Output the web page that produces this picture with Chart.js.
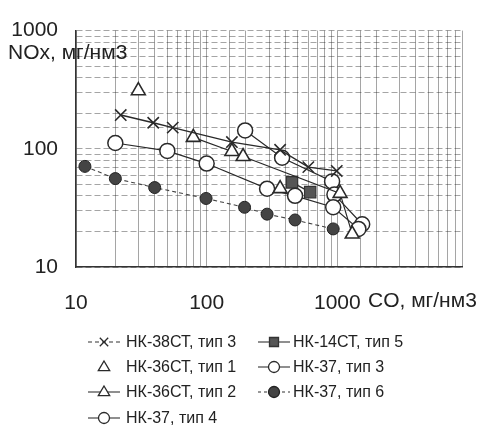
<!DOCTYPE html>
<html><head><meta charset="utf-8">
<script src="https://cdn.jsdelivr.net/npm/chart.js@4.4.0/dist/chart.umd.min.js"></script>
<style>html,body{margin:0;padding:0;background:#fff;}#wrap{width:488px;height:426px;position:relative;}</style>
</head><body><div id="wrap"><canvas id="c" width="488" height="426"></canvas></div>
<script>
// ---- data (CO, mg/nm3 vs NOx, mg/nm3) ----
const xTickLabels = [10, 100, 1000];
const yTickLabels = [10, 100, 1000];
const xTitle = "CO, мг/нм3";
const yTitle = "NOx, мг/нм3";

const seriesNames = ["НК-38СТ, тип 3", "НК-36СТ, тип 1", "НК-36СТ, тип 2", "НК-37, тип 4",
                     "НК-14СТ, тип 5", "НК-37, тип 3", "НК-37, тип 6"];

const nk38t3CO  = [22, 39, 55, 156, 365, 600, 990];
const nk38t3NOx = [193, 166, 151, 114, 98, 70, 65];

const nk36t1CO  = [30, 365];
const nk36t1NOx = [310, 46];

const nk36t2CO  = [79, 156, 190, 1050, 1300];
const nk36t2NOx = [125, 95, 86, 42, 19];

const nk37t4CO  = [20, 50, 100, 290, 475, 930, 1450];
const nk37t4NOx = [112, 96, 75, 46, 40, 32, 21];

const nk14t5CO  = [450, 620];
const nk14t5NOx = [52, 43];

const nk37t3CO  = [197, 378, 912, 950, 1550];
const nk37t3NOx = [143, 84, 53, 41, 23];

const nk37t6CO  = [11.7, 20, 40, 99, 195, 290, 475, 930];
const nk37t6NOx = [71, 56, 47, 38, 32, 28, 25, 21];

const pts = (xs, ys) => xs.map((x, i) => ({x: x, y: ys[i]}));

const FONT = '"Liberation Sans", Arial, sans-serif';
const INK = '#2a2a2a';

const datasets = [
  {label: seriesNames[0], data: pts(nk38t3CO, nk38t3NOx), pointStyle: 'crossRot', pointRadius: 8,
   borderColor: INK, pointBorderColor: INK, pointBorderWidth: 1.6, borderWidth: 1.4, showLine: true, legendDash: [4,3], order: 1},
  {label: seriesNames[1], data: pts(nk36t1CO, nk36t1NOx), pointStyle: 'triangle', pointRadius: 8,
   borderColor: INK, pointBackgroundColor: '#fff', pointBorderColor: INK, pointBorderWidth: 1.6, showLine: false, order: 2},
  {label: seriesNames[2], data: pts(nk36t2CO, nk36t2NOx), pointStyle: 'triangle', pointRadius: 8,
   borderColor: INK, pointBackgroundColor: '#fff', pointBorderColor: INK, pointBorderWidth: 1.6, borderWidth: 1.2, showLine: true, order: 3},
  {label: seriesNames[3], data: pts(nk37t4CO, nk37t4NOx), pointStyle: 'circle', pointRadius: 7.5,
   borderColor: INK, pointBackgroundColor: '#fff', pointBorderColor: INK, pointBorderWidth: 1.5, borderWidth: 1.2, showLine: true, order: 4},
  {label: seriesNames[4], data: pts(nk14t5CO, nk14t5NOx), pointStyle: 'rect', pointRadius: 8,
   borderColor: INK, pointBackgroundColor: '#555', pointBorderColor: '#333', pointBorderWidth: 1.2, borderWidth: 1.2, showLine: true, order: 5},
  {label: seriesNames[5], data: pts(nk37t3CO, nk37t3NOx), pointStyle: 'circle', pointRadius: 7.5,
   borderColor: INK, pointBackgroundColor: '#fff', pointBorderColor: INK, pointBorderWidth: 1.5, borderWidth: 1.2, showLine: true, order: 6},
  {label: seriesNames[6], data: pts(nk37t6CO, nk37t6NOx), pointStyle: 'circle', pointRadius: 6,
   borderColor: '#444', pointBackgroundColor: '#444', pointBorderColor: '#222', pointBorderWidth: 1, borderWidth: 1.1, borderDash: [4,3], showLine: true, legendDash: [3,3], order: 7}
];

function drawMarker(ctx, style, x, y, r, fill, stroke, lw) {
  ctx.save();
  ctx.lineWidth = lw; ctx.strokeStyle = stroke; ctx.fillStyle = fill; ctx.setLineDash([]);
  ctx.beginPath();
  if (style === 'circle') {
    ctx.arc(x, y, r, 0, Math.PI * 2); ctx.fill(); ctx.stroke();
  } else if (style === 'triangle') {
    ctx.moveTo(x, y - r); ctx.lineTo(x + r * 0.95, y + r * 0.6); ctx.lineTo(x - r * 0.95, y + r * 0.6); ctx.closePath();
    ctx.fill(); ctx.stroke();
  } else if (style === 'rect') {
    ctx.rect(x - r * 0.75, y - r * 0.75, r * 1.5, r * 1.5); ctx.fill(); ctx.stroke();
  } else if (style === 'crossRot') {
    ctx.moveTo(x - r * 0.7, y - r * 0.7); ctx.lineTo(x + r * 0.7, y + r * 0.7);
    ctx.moveTo(x + r * 0.7, y - r * 0.7); ctx.lineTo(x - r * 0.7, y + r * 0.7); ctx.stroke();
  }
  ctx.restore();
}

// legend layout: [datasetIndex, column, row]
const legendLayout = [[0,0,0],[1,0,1],[2,0,2],[3,0,3],[4,1,0],[5,1,1],[6,1,2]];

const extras = {
  id: 'extras',
  afterDraw(chart) {
    const ctx = chart.ctx;
    ctx.save();
    ctx.fillStyle = '#222';
    ctx.font = '21px ' + FONT;
    ctx.textBaseline = 'middle';
    ctx.textAlign = 'left';
    ctx.fillText(yTitle, 8, 53);
    ctx.fillText(xTitle, 368, 301);
    // legend
    const colSym = [104, 274], colText = [126, 293], rowY = [342, 367, 392, 418];
    ctx.font = '16px ' + FONT;
    legendLayout.forEach(([di, col, row]) => {
      const ds = chart.data.datasets[di];
      const cx = colSym[col], cy = rowY[row];
      if (ds.showLine) {
        ctx.save();
        ctx.strokeStyle = '#333'; ctx.lineWidth = 1.1;
        ctx.setLineDash(ds.legendDash || []);
        ctx.beginPath(); ctx.moveTo(cx - 16, cy); ctx.lineTo(cx + 16, cy); ctx.stroke();
        ctx.restore();
      }
      const r = ds.pointStyle === 'circle' ? 5.5 : 6;
      drawMarker(ctx, ds.pointStyle, cx, cy, r, ds.pointBackgroundColor || '#fff', ds.pointBorderColor || INK, 1.3);
      ctx.fillStyle = '#222';
      ctx.fillText(ds.label, colText[col], cy + 1);
    });
    ctx.restore();
  }
};

const gridStyle = {color: 'rgba(40,40,40,0.42)', lineWidth: 1, drawTicks: false, tickLength: 0};

new Chart(document.getElementById('c'), {
  type: 'scatter',
  data: {datasets: datasets},
  options: {
    responsive: false, animation: false, devicePixelRatio: 1,
    layout: {padding: {left: 0, top: 21, right: 26, bottom: 0}},
    plugins: {legend: {display: false}, tooltip: {enabled: false}},
    elements: {line: {tension: 0}},
    scales: {
      x: {
        type: 'logarithmic', min: 10, max: 9000,
        grid: Object.assign({}, gridStyle),
        border: {display: true, color: '#333', width: 1.5},
        afterFit(s) { s.height = 159; },
        ticks: {
          autoSkip: false, maxRotation: 0, padding: 24, color: '#222',
          font: {family: FONT, size: 21},
          callback: (v) => xTickLabels.includes(v) ? String(v) : ''
        }
      },
      y: {
        type: 'logarithmic', min: 10, max: 1000,
        grid: Object.assign({}, gridStyle),
        border: {display: true, color: '#333', width: 1.5, dash: [6, 3]},
        afterFit(s) { s.width = 76; },
        ticks: {
          autoSkip: false, padding: 18, color: '#222',
          font: {family: FONT, size: 21},
          callback: (v) => yTickLabels.includes(v) ? String(v) : ''
        }
      }
    }
  },
  plugins: [extras]
});
</script></body></html>
